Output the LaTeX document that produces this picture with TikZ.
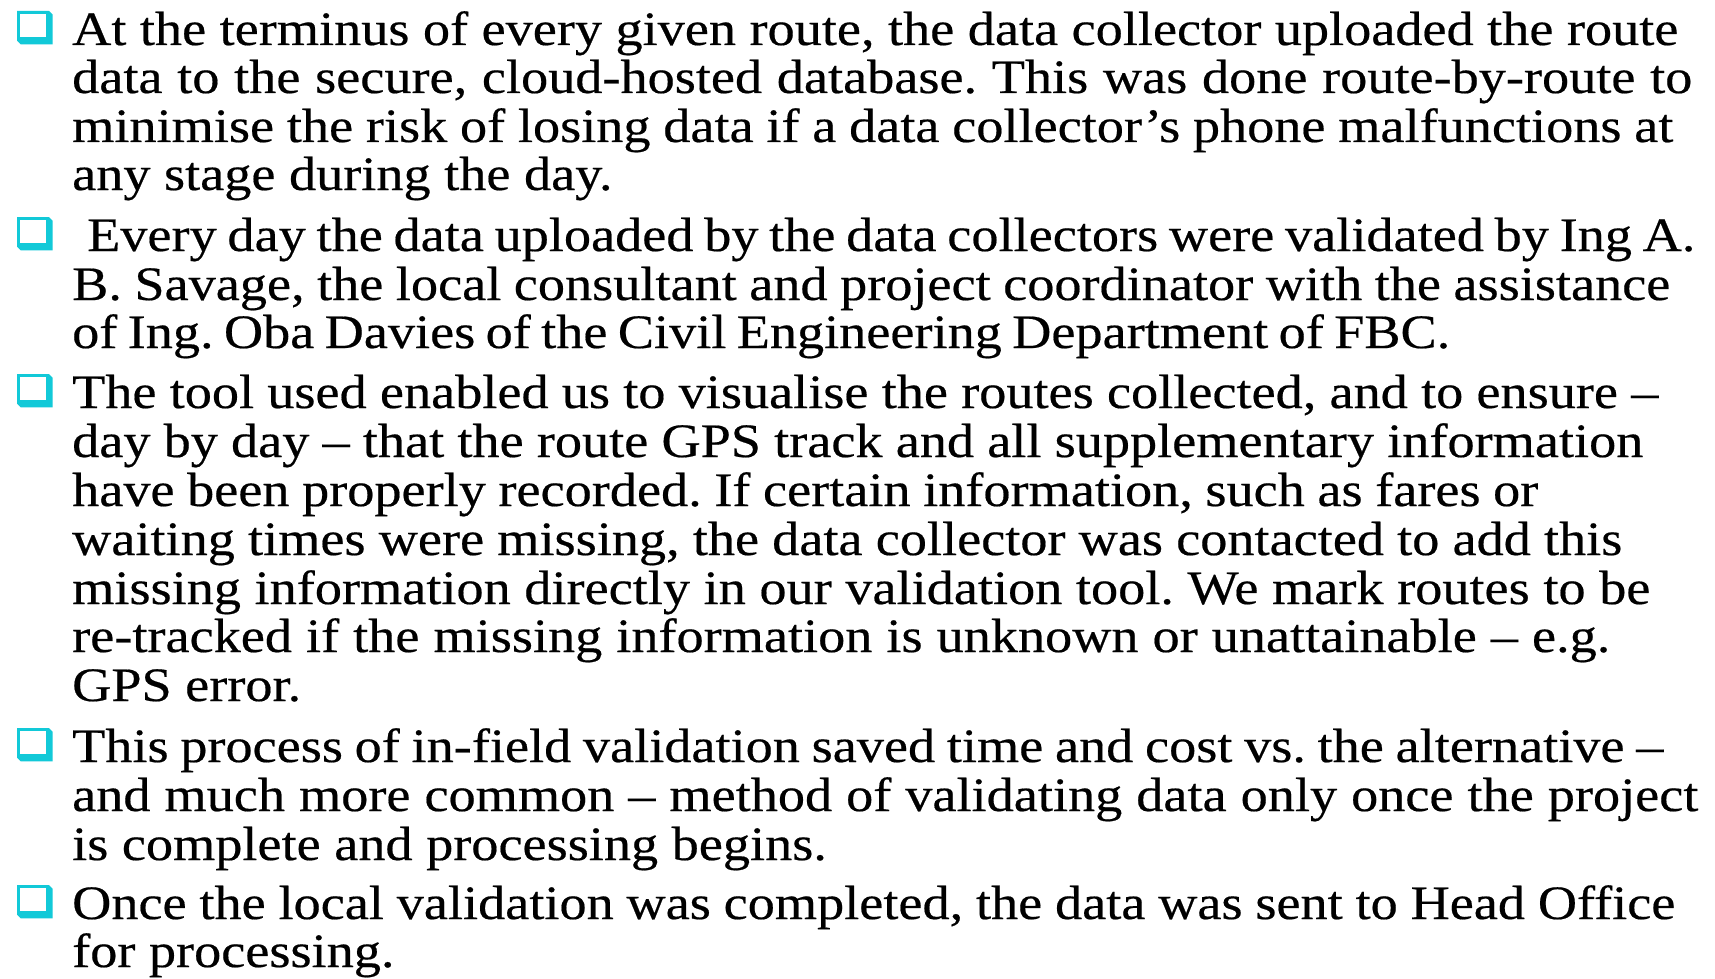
\documentclass[tikz,border=0pt]{standalone}
\usepackage{fontspec}
\setmainfont[FakeStretch=1.13, FakeBold=0.4]{Liberation Serif}
\usepackage{tikz}

\definecolor{BoxCyan}{RGB}{18,201,216}

\newcommand\fitline[2]{\spaceskip=0.28em plus 0.3em minus 0.12em\hbox to #1pt{#2}}

\tikzset{
  txt/.style={anchor=base west, inner sep=0pt, font=\fontsize{48}{48}\selectfont\frenchspacing},
  qbox/.pic={
    \fill[BoxCyan] (-55,-34) -- (-23,-34) -- (-19.3,-30.3) -- (-19.3,-0.7) -- (-51.3,-0.7) -- (-55,-4.4) -- cycle;
    \fill[white] (-52,-31) rectangle (-26,-7.7);
  }
}

\begin{document}
\begin{tikzpicture}[x=1pt, y=-1pt]
  \useasboundingbox[fill=white] (0,0) rectangle (1715,979);

  \path (72,45) pic {qbox};
  \path (72,251) pic {qbox};
  \path (72,408) pic {qbox};
  \path (72,762) pic {qbox};
  \path (72,919) pic {qbox};

  \node[txt] (a1) at (72,45) {\fitline{1606}{At the terminus of every given route, the data collector uploaded the route}};
  \node[txt] (a2) at (72,93) {\fitline{1620}{data to the secure, cloud-hosted database. This was done route-by-route to}};
  \node[txt] (a3) at (72,142) {\fitline{1601}{minimise the risk of losing data if a data collector’s phone malfunctions at}};
  \node[txt] (a4) at (72,190) {any stage during the day.};

  \node[txt] (b1) at (87,251) {\fitline{1608}{Every day the data uploaded by the data collectors were validated by Ing A.}};
  \node[txt] (b2) at (72,300) {\fitline{1598}{B. Savage, the local consultant and project coordinator with the assistance}};
  \node[txt] (b3) at (72,348) {\fitline{1378}{of Ing. Oba Davies of the Civil Engineering Department of FBC.}};

  \node[txt] (c1) at (72,408) {\fitline{1586}{The tool used enabled us to visualise the routes collected, and to ensure –}};
  \node[txt] (c2) at (72,457) {\fitline{1571}{day by day – that the route GPS track and all supplementary information}};
  \node[txt] (c3) at (72,506) {\fitline{1466}{have been properly recorded. If certain information, such as fares or}};
  \node[txt] (c4) at (72,555) {\fitline{1550}{waiting times were missing, the data collector was contacted to add this}};
  \node[txt] (c5) at (72,604) {\fitline{1578}{missing information directly in our validation tool. We mark routes to be}};
  \node[txt] (c6) at (72,652) {\fitline{1538}{re-tracked if the missing information is unknown or unattainable – e.g.}};
  \node[txt] (c7) at (72,701) {GPS error.};

  \node[txt] (d1) at (72,762) {\fitline{1591}{This process of in-field validation saved time and cost vs. the alternative –}};
  \node[txt] (d2) at (72,811) {\fitline{1626}{and much more common – method of validating data only once the project}};
  \node[txt] (d3) at (72,860) {is complete and processing begins.};

  \node[txt] (e1) at (72,919) {\fitline{1603}{Once the local validation was completed, the data was sent to Head Office}};
  \node[txt] (e2) at (72,967) {for processing.};
\end{tikzpicture}
\end{document}
